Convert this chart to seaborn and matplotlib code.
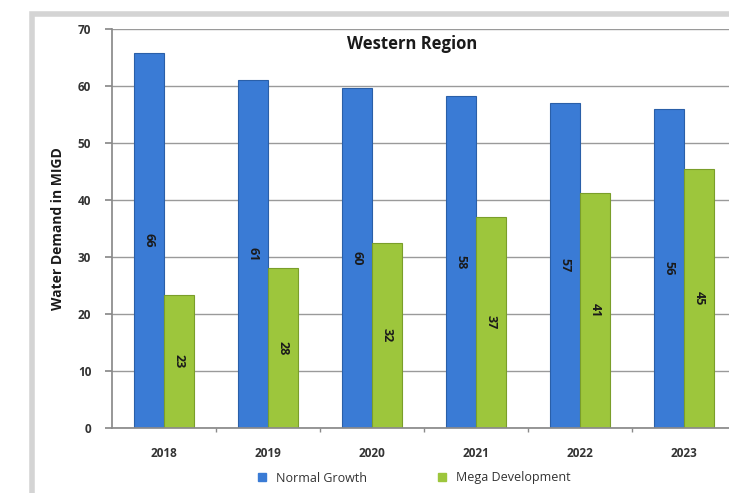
import matplotlib
matplotlib.use("Agg")
import matplotlib.pyplot as plt
import seaborn as sns
import pandas as pd
from matplotlib.patches import Rectangle
from matplotlib.lines import Line2D

years = ["2018", "2019", "2020", "2021", "2022", "2023"]
normal_growth = [65.8, 61.0, 59.6, 58.3, 57.1, 55.9]
mega_development = [23.3, 28.1, 32.5, 37.1, 41.2, 45.4]
series_names = ["Normal Growth", "Mega Development"]
colors = ["#3a7bd5", "#9dc63c"]
edge_colors = ["#2a5fa8", "#7a9e2a"]

df = pd.DataFrame({
    "Year": years * 2,
    "Value": normal_growth + mega_development,
    "Series": [series_names[0]] * len(years) + [series_names[1]] * len(years),
})

sns.set_theme(style="white")
plt.rcParams["font.family"] = ["Open Sans", "DejaVu Sans"]

fig = plt.figure(figsize=(7.29, 4.93), dpi=100)
ax = fig.add_axes([112 / 729, 1 - 428 / 493, 624 / 729, (428 - 29) / 493])

sns.barplot(data=df, x="Year", y="Value", hue="Series", palette=colors,
            width=0.58, ax=ax, legend=False, saturation=1, edgecolor="none")

for cont, ec in zip(ax.containers, edge_colors):
    for p in cont.patches:
        p.set_edgecolor(ec)
        p.set_linewidth(0.8)
    ax.bar_label(cont, labels=[f"{v:.0f}" for v in cont.datavalues],
                 label_type="center", rotation=-90, fontsize=9,
                 fontweight="bold", color="#1a1a1a")

ax.set_ylim(0, 70)
ax.set_xlim(-0.5, 5.5)
ax.set_yticks(range(0, 71, 10))
ax.yaxis.grid(True, color="#9a9a9a", linewidth=1)
ax.set_axisbelow(True)
for s in ["top", "right"]:
    ax.spines[s].set_visible(False)
ax.spines["left"].set_color("#8a8a8a")
ax.spines["bottom"].set_color("#8a8a8a")
ax.tick_params(axis="y", left=True, length=5, color="#8a8a8a", labelsize=8.5, pad=10)
ax.tick_params(axis="x", bottom=False, labelsize=8.5, pad=8)
ax.set_xticks([i + 0.5 for i in range(5)], minor=True)
ax.tick_params(axis="x", which="minor", bottom=True, length=3, color="#8a8a8a")
for lab in ax.get_yticklabels() + ax.get_xticklabels():
    lab.set_fontweight("bold")
    lab.set_color("#333333")

ax.set_xlabel("")
ax.set_ylabel("Water Demand in MIGD", fontsize=10, fontweight="bold", color="#1a1a1a", labelpad=9)
fig.text(412 / 729, 1 - 44 / 493, "Western Region", ha="center", va="center",
         fontsize=12, fontweight="bold", color="#1a1a1a")

handles = [Line2D([], [], marker="s", linestyle="none", markersize=6,
                  markerfacecolor=c, markeredgecolor=c) for c in colors]
fig.legend(handles, series_names, loc="center", bbox_to_anchor=(410 / 729, 1 - 478 / 493),
           ncol=2, frameon=False, fontsize=9, handletextpad=0.1, columnspacing=5,
           labelcolor="#333333")

fig.patches.append(Rectangle((32 / 729, -0.1), 1.2, 1 - 14 / 493 + 0.1, transform=fig.transFigure,
                             fill=False, edgecolor="#d4d4d4", linewidth=4, zorder=-1))

fig.savefig("out.png", dpi=100)
